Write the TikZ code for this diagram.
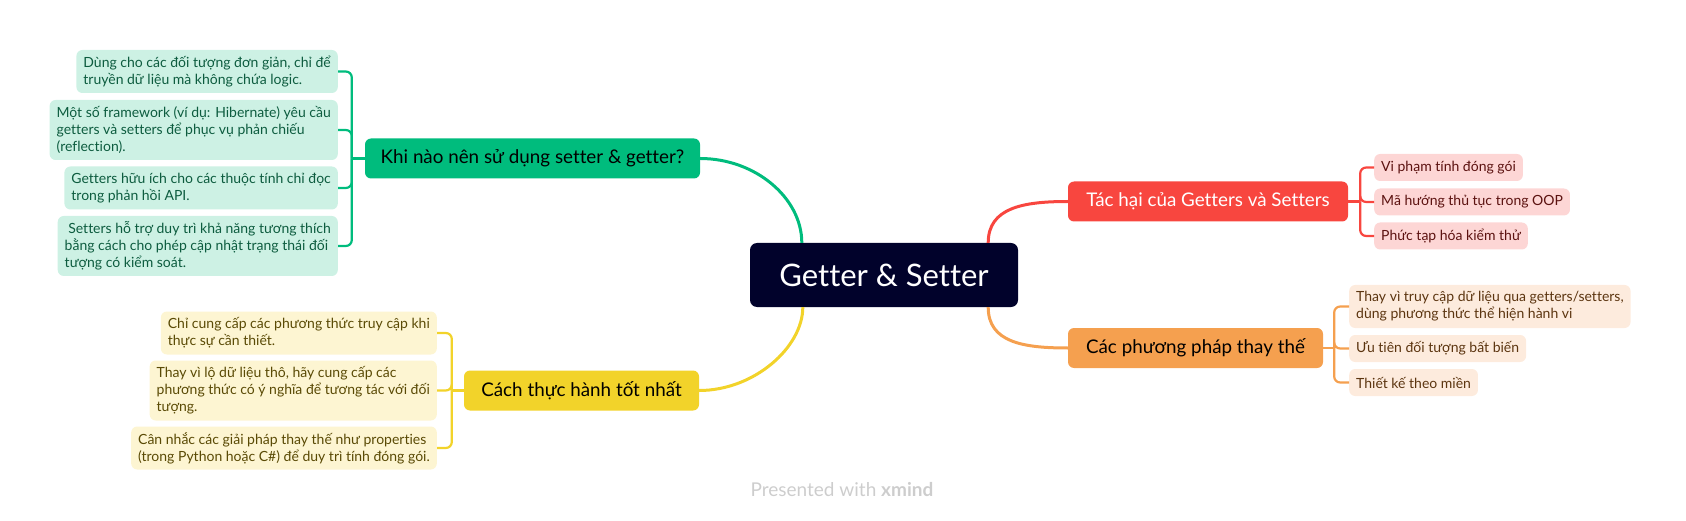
\documentclass[tikz,border=0pt]{standalone}
\usepackage{fontspec}
\setmainfont[Ligatures=CommonOff]{Lato}
\usepackage{tikz}

\definecolor{navy}{HTML}{01022B}
\definecolor{grn}{HTML}{00BC7D}
\definecolor{grnl}{HTML}{CDF1E4}
\definecolor{grnt}{HTML}{0D5C3F}
\definecolor{rd}{HTML}{F8463F}
\definecolor{rdl}{HTML}{FDD6D5}
\definecolor{rdt}{HTML}{5C1210}
\definecolor{org}{HTML}{F5A04F}
\definecolor{orgl}{HTML}{FDEBDD}
\definecolor{orgt}{HTML}{5C3510}
\definecolor{ylw}{HTML}{F2D32A}
\definecolor{ylwl}{HTML}{FDF5D2}
\definecolor{ylwt}{HTML}{5A4A05}
\definecolor{foot}{HTML}{CDCDCD}

\begin{document}
\begin{tikzpicture}[x=1pt, y=-1pt,
	every node/.style={font=\fontsize{14}{17}\selectfont},
	root/.style={fill=navy, text=white, rounded corners=7, minimum width=268, minimum height=64, font=\fontsize{31}{35}\selectfont},
	topic/.style={rounded corners=6, minimum height=40, font=\fontsize{18.8}{22}\selectfont},
	leaf/.style={rounded corners=6, align=left, inner xsep=7},
	one/.style={leaf, minimum height=27},
	two/.style={leaf, minimum height=43},
	three/.style={leaf, minimum height=60},
	knot/.style={line width=2.2, rounded corners=6},
	curve/.style={line width=3}]
	\useasboundingbox (0,0) rectangle (1686,521);

	\node[root] (root) at (884,275) {Getter \& Setter};

	\node[topic, fill=grn, minimum width=335] (a) at (532.5,158.5) {Khi nào nên sử dụng setter \& getter?};
	\node[topic, fill=rd, text=white, minimum width=280] (b) at (1208,201.5) {Tác hại của Getters và Setters};
	\node[topic, fill=ylw, minimum width=235] (c) at (581.5,390.5) {Cách thực hành tốt nhất};
	\node[topic, fill=org, minimum width=255] (d) at (1195.5,348) {Các phương pháp thay thế};

	\node[two, fill=grnl, text=grnt, anchor=east] (a1) at (338,71.5) {Dùng cho các đối tượng đơn giản, chỉ để\\truyền dữ liệu mà không chứa logic.};
	\node[three, fill=grnl, text=grnt, anchor=east] (a2) at (338,130) {Một số framework (ví dụ: Hibernate) yêu cầu\\getters và setters để phục vụ phản chiếu\\(reflection).};
	\node[two, fill=grnl, text=grnt, anchor=east] (a3) at (338,188) {Getters hữu ích cho các thuộc tính chỉ đọc\\trong phản hồi API.};
	\node[three, fill=grnl, text=grnt, anchor=east] (a4) at (338,246) {\ Setters hỗ trợ duy trì khả năng tương thích\\bằng cách cho phép cập nhật trạng thái đối\\tượng có kiểm soát.};

	\node[one, fill=rdl, text=rdt, anchor=west] (b1) at (1374,167.5) {Vi phạm tính đóng gói};
	\node[one, fill=rdl, text=rdt, anchor=west] (b2) at (1374,202) {Mã hướng thủ tục trong OOP};
	\node[one, fill=rdl, text=rdt, anchor=west] (b3) at (1374,236) {Phức tạp hóa kiểm thử};

	\node[two, fill=ylwl, text=ylwt, anchor=east] (c1) at (437,333) {Chỉ cung cấp các phương thức truy cập khi\\thực sự cần thiết.};
	\node[three, fill=ylwl, text=ylwt, anchor=east] (c2) at (437,390.5) {Thay vì lộ dữ liệu thô, hãy cung cấp các\\phương thức có ý nghĩa để tương tác với đối\\tượng.};
	\node[two, fill=ylwl, text=ylwt, anchor=east] (c3) at (437,448) {Cân nhắc các giải pháp thay thế như properties\\(trong Python hoặc C\#) để duy trì tính đóng gói.};

	\node[two, fill=orgl, text=orgt, anchor=west] (d1) at (1349,306.5) {Thay vì truy cập dữ liệu qua getters/setters,\\dùng phương thức thể hiện hành vi};
	\node[one, fill=orgl, text=orgt, anchor=west] (d2) at (1349,348.5) {Ưu tiên đối tượng bất biến};
	\node[one, fill=orgl, text=orgt, anchor=west] (d3) at (1349,382.5) {Thiết kế theo miền};

	\node[text=foot, font=\fontsize{19}{22}\selectfont] (ft) at (842,490) {Presented with \textbf{xmind}};

	\coordinate (aj) at ([xshift=-13]a.west);
	\coordinate (bj) at ([xshift=12]b.east);
	\coordinate (cj) at ([xshift=-12]c.west);
	\coordinate (dj) at ([xshift=11]d.east);

	\draw[grn, curve] (a.east) .. controls +(55,0) and +(0,-45) .. ([xshift=52]root.north west);
	\draw[rd, curve] ([xshift=-30]root.north east) .. controls +(0,-35) and +(-45,0) .. (b.west);
	\draw[ylw, curve] (c.east) .. controls +(55,0) and +(0,40) .. ([xshift=53]root.south west);
	\draw[org, curve] ([xshift=-30]root.south east) .. controls +(0,35) and +(-45,0) .. (d.west);

	\draw[grn, knot] (a.west) -- (aj);
	\foreach \i in {1,...,4} \draw[grn, knot] (aj) |- (a\i.east);
	\draw[rd, knot] (b.east) -- (bj);
	\foreach \i in {1,...,3} \draw[rd, knot] (bj) |- (b\i.west);
	\draw[ylw, knot] (c.west) -- (cj);
	\foreach \i in {1,...,3} \draw[ylw, knot] (cj) |- (c\i.east);
	\draw[org, knot] (d.east) -- (dj);
	\foreach \i in {1,...,3} \draw[org, knot] (dj) |- (d\i.west);
\end{tikzpicture}
\end{document}
